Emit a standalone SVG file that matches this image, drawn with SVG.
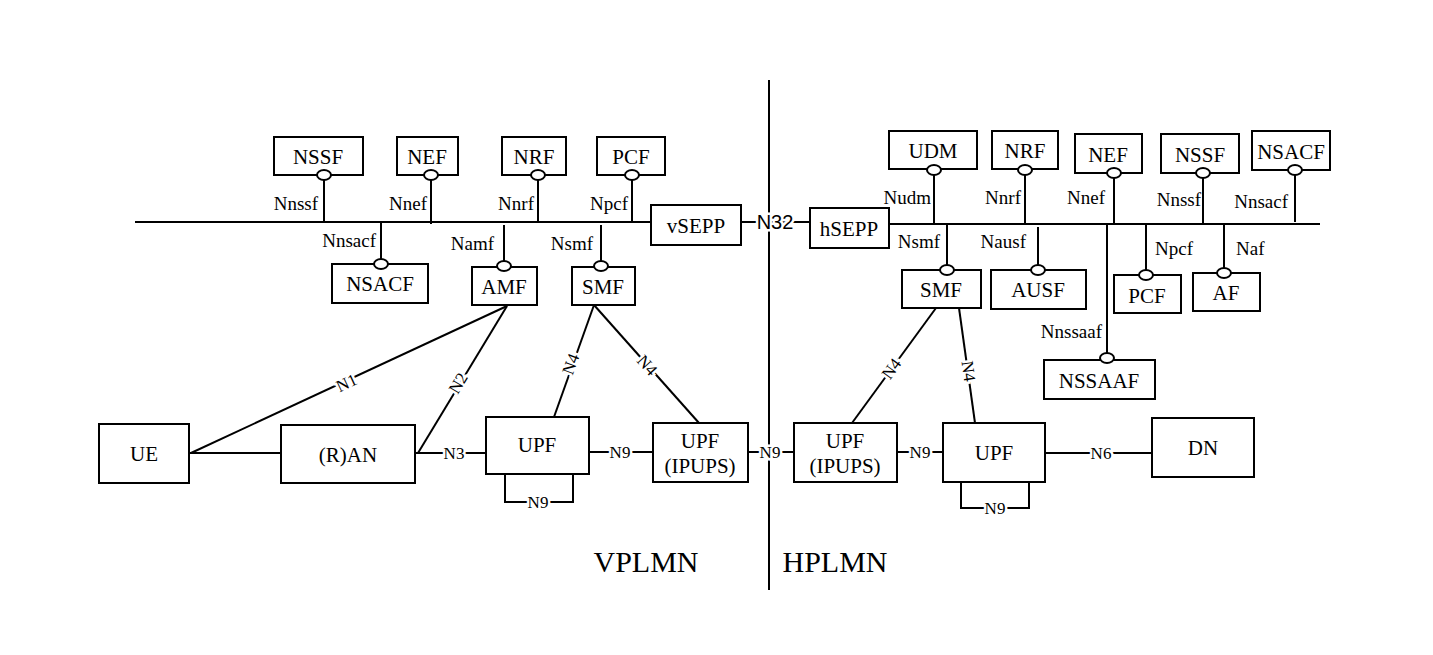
<svg xmlns="http://www.w3.org/2000/svg" width="1433" height="655" viewBox="0 0 1433 655">
<style>
rect.b{fill:#fff;stroke:#000;stroke-width:2}
line,polyline{stroke:#000;stroke-width:2;fill:none}
ellipse{fill:#fff;stroke:#000;stroke-width:2}
text{font-family:"Liberation Serif","Times New Roman",serif;fill:#000}
.n{font-size:21px;text-anchor:middle}
.l{font-size:19px;text-anchor:end}
.c{font-size:17px;text-anchor:middle;stroke:#fff;stroke-width:5;paint-order:stroke}
.big{font-size:30px;text-anchor:middle}
</style>
<rect width="1433" height="655" fill="#fff"/>
<g id="connectors">
<line x1="769" y1="80" x2="769" y2="590"/>
<line x1="135" y1="222" x2="651" y2="222"/>
<line x1="889" y1="224" x2="1320" y2="224"/>
<line x1="741" y1="222" x2="810" y2="222"/>
<line x1="324" y1="180" x2="324" y2="222"/><line x1="431" y1="180" x2="431" y2="224"/><line x1="538" y1="180" x2="538" y2="222"/><line x1="632" y1="180" x2="632" y2="222"/>
<line x1="381" y1="222" x2="381" y2="260"/><line x1="504" y1="225" x2="504" y2="262"/><line x1="601" y1="225" x2="601" y2="262"/>
<line x1="934" y1="174" x2="934" y2="224"/><line x1="1025" y1="174" x2="1025" y2="224"/><line x1="1114" y1="178" x2="1114" y2="224"/><line x1="1203" y1="178" x2="1203" y2="224"/><line x1="1295" y1="175" x2="1295" y2="222"/>
<line x1="947" y1="224" x2="947" y2="266"/><line x1="1038" y1="227" x2="1038" y2="266"/><line x1="1107" y1="224" x2="1107" y2="353"/><line x1="1146" y1="224" x2="1146" y2="271"/><line x1="1224" y1="224" x2="1224" y2="269"/>
<line x1="189" y1="453" x2="281" y2="453"/>
<line x1="191" y1="453" x2="507" y2="306"/>
<line x1="418" y1="453" x2="507" y2="306"/>
<line x1="415" y1="453" x2="486" y2="453"/>
<line x1="589" y1="452" x2="653" y2="452"/>
<line x1="748" y1="452" x2="794" y2="452"/>
<line x1="897" y1="452" x2="943" y2="452"/>
<line x1="1045" y1="453" x2="1152" y2="453"/>
<polyline points="505,474 505,502 573,502 573,474"/>
<polyline points="961,482 961,508 1029,508 1029,482"/>
<line x1="594" y1="305" x2="554" y2="417"/>
<line x1="594" y1="305" x2="699" y2="423"/>
<line x1="936" y1="308" x2="852" y2="423"/>
<line x1="959" y1="308" x2="975" y2="423"/>
<text class="c" transform="translate(349,388) rotate(-25)">N1</text>
<text class="c" transform="translate(463,386) rotate(-59)">N2</text>
<text class="c" x="454" y="459">N3</text>
<text class="c" x="620" y="458">N9</text>
<text class="c" x="770" y="458">N9</text>
<text class="c" x="920" y="458">N9</text>
<text class="c" x="1101" y="459">N6</text>
<text class="c" x="538" y="508">N9</text>
<text class="c" x="995" y="514">N9</text>
<text class="c" transform="translate(576,366) rotate(-70)">N4</text>
<text class="c" transform="translate(643,369) rotate(48)">N4</text>
<text class="c" transform="translate(896,372) rotate(-54)">N4</text>
<text class="c" transform="translate(963,372) rotate(82)">N4</text>
<text x="775" y="229" style="font-family:'Liberation Sans',Arial,sans-serif;font-size:20px;text-anchor:middle;stroke:#fff;stroke-width:5;paint-order:stroke">N32</text>
<text class="l" x="318" y="210">Nnssf</text><text class="l" x="427" y="210">Nnef</text><text class="l" x="534" y="210">Nnrf</text><text class="l" x="628" y="210">Npcf</text>
<text class="l" x="376" y="247">Nnsacf</text><text class="l" x="494" y="250">Namf</text><text class="l" x="593" y="250">Nsmf</text>
<text class="l" x="931" y="204">Nudm</text><text class="l" x="1021" y="204">Nnrf</text><text class="l" x="1105" y="204">Nnef</text><text class="l" x="1201" y="206">Nnssf</text><text class="l" x="1288" y="208">Nnsacf</text>
<text class="l" x="940" y="248">Nsmf</text><text class="l" x="1026" y="248">Nausf</text><text class="l" x="1102" y="338">Nnssaaf</text>
<text x="1155" y="255" style="font-size:19px">Npcf</text><text x="1236" y="255" style="font-size:19px">Naf</text>
</g>
<g id="NSSF_v"><rect class="b" x="274" y="137" width="89" height="38"/><text class="n" x="318" y="164">NSSF</text><ellipse cx="324" cy="175" rx="7" ry="5"/></g>
<g id="NEF_v"><rect class="b" x="397" y="137" width="61" height="38"/><text class="n" x="427" y="164">NEF</text><ellipse cx="431" cy="175" rx="7" ry="5"/></g>
<g id="NRF_v"><rect class="b" x="502" y="137" width="64" height="38"/><text class="n" x="534" y="164">NRF</text><ellipse cx="538" cy="175" rx="7" ry="5"/></g>
<g id="PCF_v"><rect class="b" x="597" y="137" width="68" height="38"/><text class="n" x="631" y="164">PCF</text><ellipse cx="632" cy="175" rx="7" ry="5"/></g>
<g id="vSEPP"><rect class="b" x="651" y="205" width="90" height="40"/><text class="n" x="696" y="233">vSEPP</text></g>
<g id="NSACF_v"><rect class="b" x="332" y="264" width="96" height="39"/><text class="n" x="380" y="291">NSACF</text><ellipse cx="381" cy="264" rx="7" ry="5"/></g>
<g id="AMF"><rect class="b" x="472" y="267" width="65" height="38"/><text class="n" x="504" y="294">AMF</text><ellipse cx="504" cy="266" rx="7" ry="5"/></g>
<g id="SMF_v"><rect class="b" x="572" y="267" width="63" height="38"/><text class="n" x="603" y="294">SMF</text><ellipse cx="601" cy="266" rx="7" ry="5"/></g>
<g id="hSEPP"><rect class="b" x="810" y="208" width="79" height="40"/><text class="n" x="849" y="236">hSEPP</text></g>
<g id="UDM"><rect class="b" x="889" y="131" width="88" height="38"/><text class="n" x="933" y="158">UDM</text><ellipse cx="934" cy="170" rx="7" ry="5"/></g>
<g id="NRF_h"><rect class="b" x="992" y="131" width="66" height="38"/><text class="n" x="1025" y="158">NRF</text><ellipse cx="1025" cy="170" rx="7" ry="5"/></g>
<g id="NEF_h"><rect class="b" x="1075" y="134" width="67" height="39"/><text class="n" x="1108" y="162">NEF</text><ellipse cx="1114" cy="173" rx="7" ry="5"/></g>
<g id="NSSF_h"><rect class="b" x="1161" y="134" width="78" height="39"/><text class="n" x="1200" y="162">NSSF</text><ellipse cx="1203" cy="173" rx="7" ry="5"/></g>
<g id="NSACF_h"><rect class="b" x="1252" y="131" width="78" height="39"/><text class="n" x="1291" y="159">NSACF</text><ellipse cx="1295" cy="170" rx="7" ry="5"/></g>
<g id="SMF_h"><rect class="b" x="902" y="270" width="79" height="38"/><text class="n" x="941" y="297">SMF</text><ellipse cx="947" cy="270" rx="7" ry="5"/></g>
<g id="AUSF"><rect class="b" x="991" y="270" width="95" height="39"/><text class="n" x="1038" y="297">AUSF</text><ellipse cx="1038" cy="270" rx="7" ry="5"/></g>
<g id="PCF_h"><rect class="b" x="1114" y="275" width="67" height="38"/><text class="n" x="1147" y="303">PCF</text><ellipse cx="1146" cy="275" rx="7" ry="5"/></g>
<g id="AF"><rect class="b" x="1193" y="273" width="67" height="38"/><text class="n" x="1226" y="300">AF</text><ellipse cx="1224" cy="273" rx="7" ry="5"/></g>
<g id="NSSAAF"><rect class="b" x="1044" y="360" width="111" height="39"/><text class="n" x="1099" y="388">NSSAAF</text><ellipse cx="1107" cy="358" rx="7" ry="5"/></g>
<g id="UE"><rect class="b" x="99" y="424" width="90" height="59"/><text class="n" x="144" y="461">UE</text></g>
<g id="RAN"><rect class="b" x="281" y="425" width="134" height="58"/><text class="n" x="348" y="462">(R)AN</text></g>
<g id="UPF1"><rect class="b" x="486" y="417" width="103" height="57"/><text class="n" x="537" y="452">UPF</text></g>
<g id="IPUPS1"><rect class="b" x="653" y="423" width="95" height="59"/><text class="n" x="700" y="448">UPF</text><text class="n" x="700" y="473">(IPUPS)</text></g>
<g id="IPUPS2"><rect class="b" x="794" y="423" width="103" height="59"/><text class="n" x="845" y="448">UPF</text><text class="n" x="845" y="473">(IPUPS)</text></g>
<g id="UPF2"><rect class="b" x="943" y="423" width="102" height="59"/><text class="n" x="994" y="460">UPF</text></g>
<g id="DN"><rect class="b" x="1152" y="418" width="102" height="59"/><text class="n" x="1203" y="455">DN</text></g>
<text class="big" x="646" y="572">VPLMN</text>
<text class="big" x="835" y="572">HPLMN</text>
</svg>
